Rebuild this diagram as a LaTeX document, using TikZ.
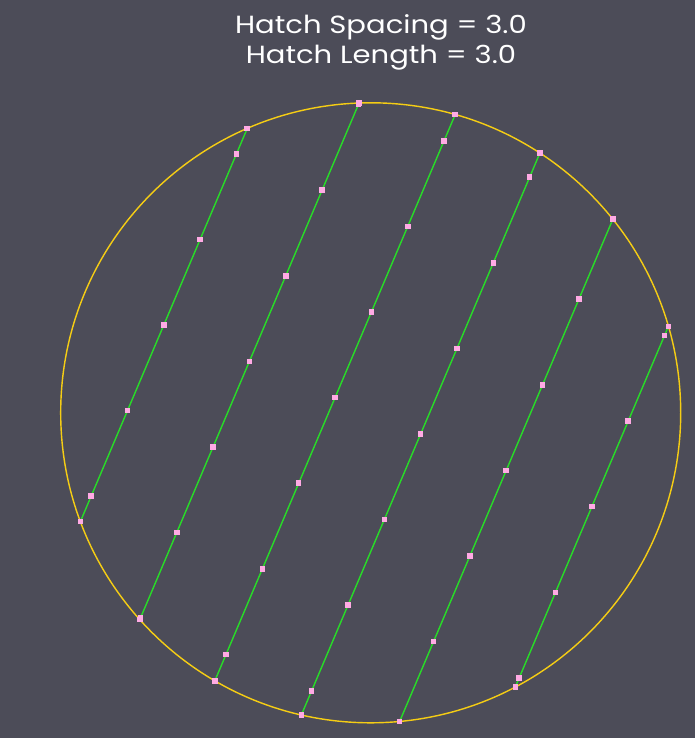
\documentclass[tikz,border=0pt]{standalone}
\usepackage{fontspec}
\setmainfont[FakeStretch=1.17]{Poppins}
\usetikzlibrary{calc}
\definecolor{bgcol}{RGB}{76,76,88}
\definecolor{rimcol}{RGB}{245,205,20}
\definecolor{hatchcol}{RGB}{40,220,40}
\definecolor{markcol}{RGB}{255,170,228}
\begin{document}
\begin{tikzpicture}[x=1cm,y=1cm,
  rim/.style={draw=rimcol,line width=1.3pt},
  hatch/.style={draw=hatchcol,line width=1.3pt},
  dot/.style={rectangle,fill=markcol,minimum size=0.18cm,inner sep=0pt},
  title/.style={text=white,font=\fontsize{22.8}{27}\selectfont,anchor=base}]
\fill[bgcol] (-11.958,-10.490) rectangle (10.461,13.316);
\useasboundingbox (-11.958,-10.490) rectangle (10.461,13.316);
\coordinate (c) at (0,0);
\draw[rim] (c) circle (10);
% hatch lines, 3 apart, clipped by the circle
\foreach \k in {0,...,5}{
  \pgfmathsetmacro{\off}{-7.25+3*\k}
  \pgfmathsetmacro{\half}{sqrt(100-\off*\off)}
  \coordinate (lo\k) at ($(c)+(-23:\off)+(247:\half)$);
  \coordinate (hi\k) at ($(c)+(-23:\off)+(67:\half)$);
  \draw[hatch] (lo\k) -- (hi\k);
}
% points every 3 along each line
\foreach \k in {0,...,5}{
  \pgfmathsetmacro{\off}{-7.25+3*\k}
  \pgfmathsetmacro{\half}{sqrt(100-\off*\off)}
  \foreach \m in {-3,...,3}{
    \pgfmathparse{abs(3*\m)<\half ? 1 : 0}
    \ifnum\pgfmathresult=1
      \node[dot] (p\k-\m) at ($(c)+(-23:\off)+(67:3*\m)$) {};
    \fi
  }
  \node[dot] (plo\k) at (lo\k) {};
  \node[dot] (phi\k) at (hi\k) {};
}
\node[title] (spacing) at (0.33,12.25) {Hatch Spacing = 3.0};
\node[title] (length) at (0.33,11.28) {Hatch Length = 3.0};
\end{tikzpicture}
\end{document}
